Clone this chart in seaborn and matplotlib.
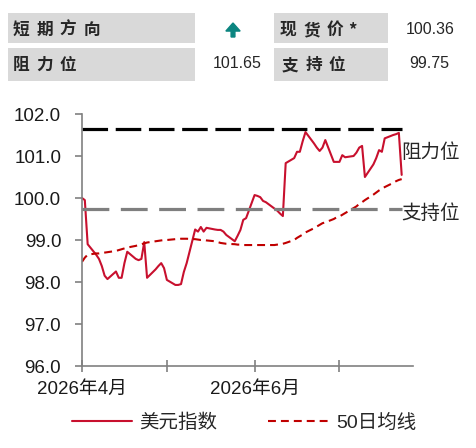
import matplotlib
matplotlib.use("Agg")
import matplotlib.pyplot as plt
import matplotlib.dates as mdates
import matplotlib.patches as mpatches
import numpy as np
import pandas as pd
import seaborn as sns

# data
dates = pd.bdate_range("2026-04-01", "2026-07-23")
dxy = [100.00, 99.95, 98.90, 98.65, 98.55, 98.38, 98.15, 98.07, 98.25, 98.10, 98.10,
       98.45, 98.72, 98.55, 98.52, 98.55, 98.95, 98.10, 98.30, 98.38, 98.45, 98.33,
       98.05, 97.93, 97.93, 97.95, 98.24, 98.45, 99.25, 99.20, 99.31, 99.20, 99.29,
       99.25, 99.24, 99.24, 99.20, 99.12, 98.97, 99.10, 99.24, 99.48, 99.52,
       100.07, 100.05, 100.02, 99.93, 99.90, 99.75, 99.70, 99.63, 99.57, 100.83,
       100.95, 101.10, 101.10, 101.35, 101.57, 101.30, 101.20, 101.12, 101.20, 101.38,
       100.86, 100.86,
       100.86, 101.02, 100.97, 101.00, 101.08, 101.20, 101.24, 100.50, 100.80, 100.95,
       101.14, 101.10, 101.42, 101.50, 101.52, 101.55, 100.55]
ma50 = [98.48, 98.58, 98.65, 98.68, 98.68, 98.69, 98.70, 98.71, 98.74, 98.76, 98.78,
        98.80, 98.82, 98.86, 98.88, 98.90, 98.92, 98.94, 98.97, 98.98, 98.99, 99.00,
        99.00, 99.02, 99.02, 99.03, 99.03, 99.03, 99.02, 99.01, 99.00, 99.00, 98.99,
        98.97, 98.95, 98.93, 98.92, 98.91, 98.90, 98.89, 98.89, 98.88, 98.88,
        98.88, 98.88, 98.88, 98.88, 98.88, 98.88, 98.89, 98.90, 98.91, 98.93, 99.00,
        99.05, 99.09, 99.13, 99.18, 99.28, 99.32, 99.36, 99.40, 99.42, 99.50, 99.54,
        99.56, 99.60, 99.64, 99.76, 99.80, 99.86, 99.90, 99.95, 100.08, 100.13, 100.18,
        100.22, 100.26, 100.36, 100.40, 100.43, 100.45]
resistance = 101.65
support = 99.75
spot = 100.36
series_names = ["美元指数", "50日均线"]
level_names = ["阻力位", "支持位"]
header_labels = ["短期方向", "阻力位", "现货价*", "支持位"]
x_labels = ["2026年4月", "", "2026年6月", ""]
y_ticks = [96, 97, 98, 99, 100, 101, 102]

df = pd.DataFrame({"date": dates, "dxy": dxy, "ma": ma50})

sns.set_style("white")
plt.rcParams["font.family"] = ["Liberation Sans", "Noto Sans CJK SC", "DejaVu Sans"]

W, H = 476, 448
fig = plt.figure(figsize=(W / 100, H / 100), dpi=100)


def fx(px):
    return px / W


def fy(py):
    return 1 - py / H


# header table
grey = "#D9D9D9"
txt = "#262626"
for (x0, x1, y0, y1) in [(8, 195, 13, 43), (274, 388, 13, 43), (8, 195, 48, 81), (274, 388, 48, 81)]:
    fig.add_artist(mpatches.Rectangle((fx(x0), fy(y1)), fx(x1 - x0), fy(y0) - fy(y1),
                                      transform=fig.transFigure, facecolor=grey, edgecolor="none"))
cell_kw = dict(fontsize=12, color=txt, va="center", ha="center", fontweight="bold",
               family=["Noto Sans CJK SC", "DejaVu Sans"])
for label, (x0, yc) in zip(header_labels, [(21, 30), (21, 65), (288, 30), (290, 65)]):
    for i, ch in enumerate(label):
        fig.text(fx(x0 + 23.5 * i - (6 if ch == "*" else 0)), fy(yc), ch, **cell_kw)
num_kw = dict(fontsize=11.5, color=txt, va="center")
fig.text(fx(262), fy(64), f"{resistance:.2f}", ha="right", **num_kw)
fig.text(fx(430), fy(29), f"{spot:.2f}", ha="center", **num_kw)
fig.text(fx(429), fy(64), f"{support:.2f}", ha="center", **num_kw)
fig.add_artist(mpatches.FancyArrow(fx(233), fy(37), 0, fy(23) - fy(37), width=0.008,
                                   head_width=0.03, head_length=0.018, length_includes_head=True,
                                   transform=fig.transFigure, color="#0B8580"))

# chart
ax = fig.add_axes([fx(82), fy(366), fx(413 - 82), fy(114) - fy(366)])
red = "#C8102E"
sns.lineplot(data=df, x="date", y="dxy", ax=ax, color=red, lw=1.5, label=series_names[0])
sns.lineplot(data=df, x="date", y="ma", ax=ax, color="#C00000", lw=1.5,
             linestyle=(0, (3.8, 2.4)), label=series_names[1])
ax.hlines(resistance, dates[0], dates[-1], color="black", lw=2.3, linestyles=[(0, (8.0, 2.4))])
ax.hlines(support, dates[0], dates[-1], color="#7F7F7F", lw=2.3, linestyles=[(0, (8.4, 3.6))])
ax.text(dates[-1], resistance - 0.57, level_names[0], fontsize=14,
        color=txt, va="center", ha="left", clip_on=False)
ax.text(dates[-1], support - 0.13, level_names[1], fontsize=14,
        color=txt, va="center", ha="left", clip_on=False)

ax.set_ylim(96, 102)
ax.set_xlim(pd.Timestamp("2026-04-01"), pd.Timestamp("2026-07-27"))
ax.set_yticks(y_ticks)
ax.set_yticklabels([f"{v:.1f}" for v in y_ticks])
ax.xaxis.set_major_locator(mdates.MonthLocator())
ax.set_xticks(ax.get_xticks())
ax.set_xticklabels(x_labels)
ax.set_xlabel("")
ax.set_ylabel("")
for s in ["top", "right"]:
    ax.spines[s].set_visible(False)
for s in ["left", "bottom"]:
    ax.spines[s].set_color("#808080")
    ax.spines[s].set_linewidth(1.2)
ax.tick_params(axis="y", direction="out", length=5, width=1.2, color="#808080",
               labelsize=13.5, pad=10, labelcolor="#1a1a1a", left=True)
ax.tick_params(axis="x", direction="inout", length=9, width=1.2, color="#808080",
               labelsize=13.5, pad=6, labelcolor="#1a1a1a", bottom=True)

ax.legend(loc="center", bbox_to_anchor=(0.5 + fx(6), fy(423)), bbox_transform=fig.transFigure,
          ncol=2, frameon=False, fontsize=14, handlelength=3.1, columnspacing=2.6,
          handletextpad=0.4)

fig.savefig("out.png", dpi=100)
